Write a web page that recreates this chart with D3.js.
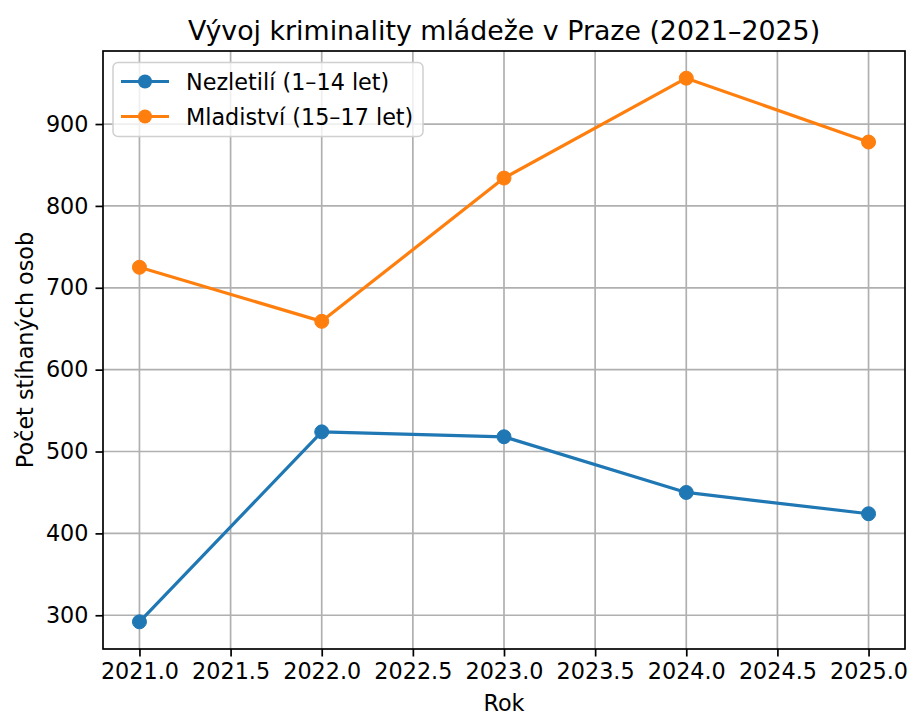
<!DOCTYPE html>
<html><head><meta charset="utf-8">
<script src="https://cdn.jsdelivr.net/npm/d3@7"></script>
<style>body{margin:0;background:#fff}svg{display:block}text{font-family:"DejaVu Sans",sans-serif;fill:#000}</style>
</head><body>
<script>
const years = [2021, 2022, 2023, 2024, 2025];
const nezletili = [292, 524, 518, 450, 424];
const mladistvi = [725, 659, 834, 956, 878];
const seriesNames = ["Nezletilí (1–14 let)", "Mladiství (15–17 let)"];
const seriesColors = ["#1f77b4", "#ff7f0e"];
const xTicks = [2021.0, 2021.5, 2022.0, 2022.5, 2023.0, 2023.5, 2024.0, 2024.5, 2025.0];
const yTicks = [300, 400, 500, 600, 700, 800, 900];
const titleText = "Vývoj kriminality mládeže v Praze (2021–2025)";
const xLabel = "Rok", yLabel = "Počet stíhaných osob";

const W = 911, H = 716;
const L = 103, R = 905, T = 51, B = 649;
const svg = d3.select("body").append("svg").attr("width", W).attr("height", H);

const all = nezletili.concat(mladistvi);
const ymin = d3.min(all), ymax = d3.max(all), yr = ymax - ymin;
const x = d3.scaleLinear().domain([2020.8, 2025.2]).range([L, R]);
const y = d3.scaleLinear().domain([ymin - 0.05 * yr, ymax + 0.05 * yr]).range([B, T]);

const fs = 22.3;
// grid
const g = svg.append("g");
g.selectAll(".gx").data(xTicks).enter().append("line")
  .attr("x1", d => x(d)).attr("x2", d => x(d)).attr("y1", T).attr("y2", B)
  .attr("stroke", "#b0b0b0").attr("stroke-width", 1.7);
g.selectAll(".gy").data(yTicks).enter().append("line")
  .attr("y1", d => y(d)).attr("y2", d => y(d)).attr("x1", L).attr("x2", R)
  .attr("stroke", "#b0b0b0").attr("stroke-width", 1.7);

// axes
const xAxis = d3.axisBottom(x).tickValues(xTicks).tickFormat(d3.format(".1f")).tickSize(7.5).tickPadding(7);
const yAxis = d3.axisLeft(y).tickValues(yTicks).tickFormat(d3.format("d")).tickSize(7.5).tickPadding(7);
const gx = svg.append("g").attr("transform", `translate(0,${B})`).call(xAxis);
const gy = svg.append("g").attr("transform", `translate(${L},0)`).call(yAxis);
[gx, gy].forEach(a => {
  a.select(".domain").remove();
  a.selectAll(".tick line").attr("stroke", "#000").attr("stroke-width", 1.7);
  a.selectAll(".tick text").attr("font-size", fs).attr("font-family", "DejaVu Sans").attr("fill", "#000");
});
svg.append("rect").attr("x", L).attr("y", T).attr("width", R - L).attr("height", B - T)
  .attr("fill", "none").attr("stroke", "#000").attr("stroke-width", 1.7);

// lines
const data = [nezletili, mladistvi];
const line = d3.line().x((d, i) => x(years[i])).y(d => y(d));
data.forEach((s, k) => {
  svg.append("path").datum(s).attr("d", line).attr("fill", "none")
    .attr("stroke", seriesColors[k]).attr("stroke-width", 3.2).attr("stroke-linejoin", "round");
  svg.selectAll(".m" + k).data(s).enter().append("circle")
    .attr("cx", (d, i) => x(years[i])).attr("cy", d => y(d)).attr("r", 7)
    .attr("fill", seriesColors[k]).attr("stroke", seriesColors[k]).attr("stroke-width", 1);
});

// legend
const lg = svg.append("g");
lg.append("rect").attr("x", 113).attr("y", 62.5).attr("width", 310).attr("height", 74).attr("rx", 5)
  .attr("fill", "#fff").attr("fill-opacity", 0.8).attr("stroke", "#d0d0d0").attr("stroke-width", 1.5);
seriesNames.forEach((n, k) => {
  const cy = 81.5 + k * 35;
  lg.append("line").attr("x1", 121).attr("x2", 169).attr("y1", cy).attr("y2", cy)
    .attr("stroke", seriesColors[k]).attr("stroke-width", 3.2);
  lg.append("circle").attr("cx", 145).attr("cy", cy).attr("r", 7).attr("fill", seriesColors[k]);
  lg.append("text").attr("x", 186).attr("y", cy).attr("dy", "0.36em").attr("font-size", fs).text(n);
});

// titles
svg.append("text").attr("x", (L + R) / 2).attr("y", 40).attr("text-anchor", "middle").attr("font-size", 26.8).text(titleText);
svg.append("text").attr("x", (L + R) / 2).attr("y", 711).attr("text-anchor", "middle").attr("font-size", fs).text(xLabel);
svg.append("text").attr("transform", `translate(33,${(T + B) / 2}) rotate(-90)`).attr("text-anchor", "middle").attr("font-size", fs).text(yLabel);
</script>
</body></html>
